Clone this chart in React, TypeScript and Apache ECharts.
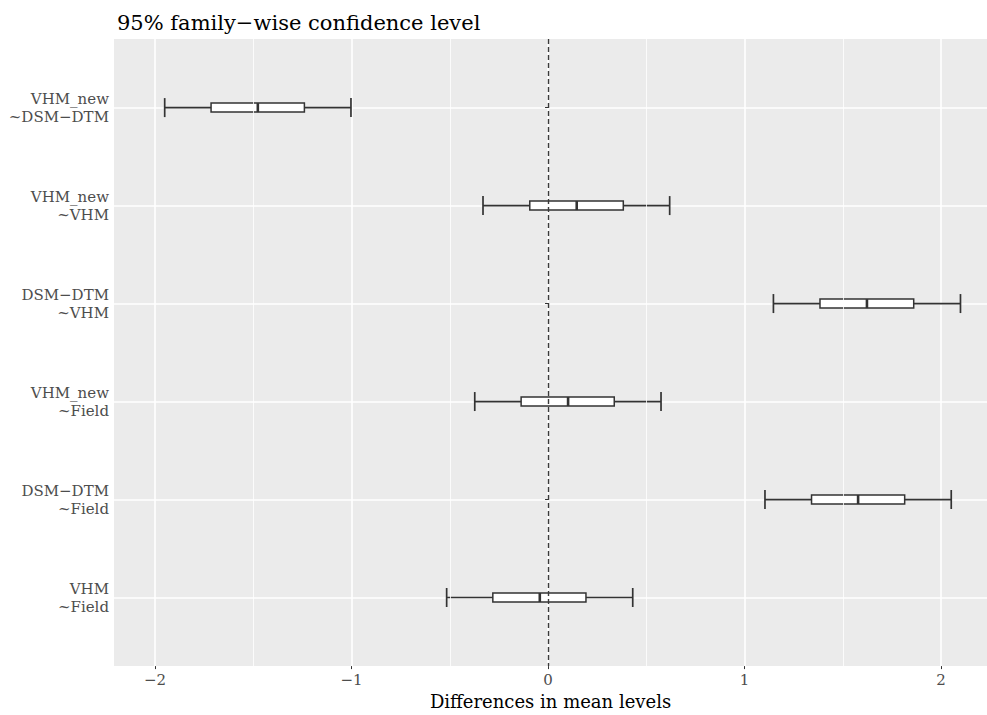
import React, { useEffect, useRef } from "react";
import * as echarts from "echarts";

const comparisons = [
  "VHM_new\n~DSM−DTM",
  "VHM_new\n~VHM",
  "DSM−DTM\n~VHM",
  "VHM_new\n~Field",
  "DSM−DTM\n~Field",
  "VHM\n~Field",
];
const lower = [-1.951, -0.331, 1.147, -0.373, 1.104, -0.516];
const q1 = [-1.715, -0.093, 1.384, -0.137, 1.341, -0.281];
const median = [-1.477, 0.146, 1.623, 0.102, 1.578, -0.042];
const q3 = [-1.24, 0.383, 1.861, 0.337, 1.815, 0.193];
const upper = [-1.003, 0.619, 2.099, 0.575, 2.052, 0.431];
const xTicks = [-2, -1, 0, 1, 2];
const xMinorGrid = [-1.5, -0.5, 0.5, 1.5];
const refLine = 0;
const titleText = "95% family−wise confidence level";
const xName = "Differences in mean levels";

const SERIF = "'DejaVu Serif', 'Liberation Serif', serif";

export default function App() {
  const ref = useRef<HTMLDivElement>(null);
  useEffect(() => {
    if (!ref.current) return;
    const chart = echarts.init(ref.current, null, { renderer: "svg" });
    const rows = comparisons.map((_, i) => i + 1);
    const data = rows.map((r, i) => [r, lower[i], q1[i], median[i], q3[i], upper[i]]);
    const fmtNum = (v: number) => (v < 0 ? "−" + Math.abs(v) : String(v));
    chart.setOption({
      animation: false,
      title: {
        text: titleText,
        left: 112,
        top: 7,
        textStyle: { fontFamily: SERIF, fontSize: 21, fontWeight: "normal", color: "#000" },
      },
      grid: {
        left: 114,
        right: 0,
        top: 39,
        bottom: 44,
        show: true,
        backgroundColor: "#EBEBEB",
        borderWidth: 0,
      },
      xAxis: {
        type: "value",
        min: -2.209,
        max: 2.234,
        name: xName,
        nameLocation: "middle",
        nameGap: 22,
        nameTextStyle: { fontFamily: SERIF, fontSize: 18, color: "#000", verticalAlign: "top" },
        axisLine: { show: false },
        axisTick: { show: true, length: 3, customValues: xTicks, lineStyle: { color: "#333", width: 1 } },
        axisLabel: {
          customValues: xTicks,
          formatter: (v: number) => fmtNum(v),
          fontFamily: SERIF,
          fontSize: 15,
          color: "#4D4D4D",
          margin: 6,
        },
        splitLine: { show: true, lineStyle: { color: "#FFFFFF", width: 1.6 } },
      },
      yAxis: {
        type: "value",
        min: 0.3,
        max: 6.7,
        inverse: true,
        axisLine: { show: false },
        axisTick: { show: true, length: 3, customValues: rows, lineStyle: { color: "#333", width: 1 } },
        axisLabel: {
          customValues: rows,
          formatter: (v: number) => comparisons[Math.round(v) - 1] || "",
          fontFamily: SERIF,
          fontSize: 15,
          lineHeight: 18,
          color: "#4D4D4D",
          align: "right",
          margin: 5,
        },
        splitLine: { show: true, lineStyle: { color: "#FFFFFF", width: 1.6 } },
      },
      series: [
        {
          type: "line",
          data: [],
          z: 1,
          silent: true,
          markLine: {
            silent: true,
            symbol: "none",
            label: { show: false },
            lineStyle: { color: "#FFFFFF", width: 0.8, type: "solid" },
            data: xMinorGrid.map((v) => ({ xAxis: v })),
          },
        },
        {
          type: "custom",
          z: 3,
          silent: true,
          encode: { x: [1, 2, 3, 4, 5], y: 0 },
          data,
          renderItem: (params: any, api: any) => {
            const y = api.value(0);
            const pLo = api.coord([api.value(1), y]);
            const pQ1 = api.coord([api.value(2), y]);
            const pMed = api.coord([api.value(3), y]);
            const pQ3 = api.coord([api.value(4), y]);
            const pHi = api.coord([api.value(5), y]);
            const capH = 9.5;
            const boxH = 4.5;
            const stroke = "#333333";
            return {
              type: "group",
              children: [
                { type: "line", shape: { x1: pLo[0], y1: pLo[1], x2: pHi[0], y2: pHi[1] }, style: { stroke, lineWidth: 1.7 } },
                { type: "line", shape: { x1: pLo[0], y1: pLo[1] - capH, x2: pLo[0], y2: pLo[1] + capH }, style: { stroke, lineWidth: 1.7 } },
                { type: "line", shape: { x1: pHi[0], y1: pHi[1] - capH, x2: pHi[0], y2: pHi[1] + capH }, style: { stroke, lineWidth: 1.7 } },
                {
                  type: "rect",
                  shape: { x: pQ1[0], y: pQ1[1] - boxH, width: pQ3[0] - pQ1[0], height: boxH * 2 },
                  style: { fill: "#FFFFFF", stroke, lineWidth: 1.5 },
                },
                { type: "line", shape: { x1: pMed[0], y1: pMed[1] - boxH, x2: pMed[0], y2: pMed[1] + boxH }, style: { stroke, lineWidth: 2.6 } },
              ],
            };
          },
        },
        {
          type: "line",
          data: [],
          z: 5,
          silent: true,
          markLine: {
            silent: true,
            symbol: "none",
            label: { show: false },
            lineStyle: { color: "#3A3A3A", width: 1.4, type: [5, 3] },
            data: [{ xAxis: refLine }],
          },
        },
      ],
    });
    return () => chart.dispose();
  }, []);
  return <div ref={ref} style={{ position: "absolute", left: 0, top: 0, width: 987, height: 715 }} />;
}
